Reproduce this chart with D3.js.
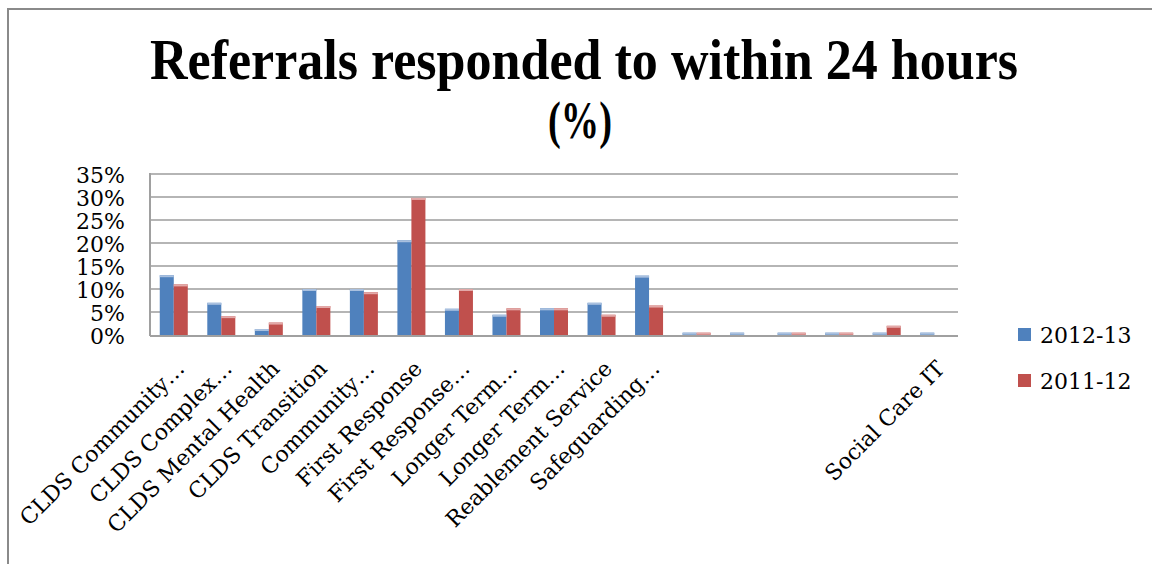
<!DOCTYPE html>
<html>
<head>
<meta charset="utf-8">
<script src="https://cdnjs.cloudflare.com/ajax/libs/d3/7.8.5/d3.min.js"></script>
<style>
  body { margin: 0; background: #fff; }
  svg { display: block; }
</style>
</head>
<body>
<script>
// DATA
var categories = ["CLDS Community\u2026", "CLDS Complex\u2026", "CLDS Mental Health", "CLDS Transition",
  "Community\u2026", "First Response", "First Response\u2026", "Longer Term\u2026", "Longer Term\u2026",
  "Reablement Service", "Safeguarding\u2026", "", "", "", "", "", "Social Care IT"];
var seriesNames = ["2012-13", "2011-12"];
var values2012 = [13, 7, 1.3, 10, 10, 20.6, 5.7, 4.4, 5.8, 7, 12.9, 0.5, 0.5, 0.5, 0.5, 0.5, 0.5];
var values2011 = [11, 4.1, 2.7, 6.3, 9.3, 29.8, 10, 5.8, 5.8, 4.4, 6.4, 0.5, 0, 0.5, 0.5, 2, 0];
var yTicks = [0, 5, 10, 15, 20, 25, 30, 35];

var colors = ["#4f81bd", "#c0504d"];
var tops = ["#a9c0df", "#e3a9a8"];

// SET CHART
var width = 1152, height = 564;
var plot = { left: 150, right: 958, top: 174, bottom: 335 };

var svg = d3.select("body")
  .append("svg")
  .attr("width", width)
  .attr("height", height);

// outer frame (only left + top edges visible)
svg.append("rect")
  .attr("x", 8).attr("y", 9)
  .attr("width", 1300).attr("height", 700)
  .style("fill", "#fff")
  .style("stroke", "#8a8a8a")
  .style("stroke-width", 2);

// title
var title = svg.append("g").attr("class", "title")
  .style("font-family", "'Liberation Serif', serif")
  .style("font-weight", "bold")
  .style("fill", "#000");
title.append("text")
  .attr("x", 150).attr("y", 79)
  .attr("textLength", 868)
  .attr("lengthAdjust", "spacingAndGlyphs")
  .style("font-size", "57px")
  .text("Referrals responded to within 24 hours");
title.append("text")
  .attr("x", 580).attr("y", 138)
  .attr("text-anchor", "middle")
  .attr("textLength", 64)
  .attr("lengthAdjust", "spacingAndGlyphs")
  .style("font-size", "52px")
  .text("(%)");

var x = d3.scaleBand()
  .domain(d3.range(categories.length))
  .range([plot.left, plot.right]);

var x1 = d3.scaleBand()
  .domain([0, 1])
  .range([0, 28]);

var y = d3.scaleLinear()
  .domain([0, 35])
  .range([plot.bottom, plot.top]);

// gridlines
svg.append("g")
  .attr("class", "grid")
  .selectAll("line")
  .data(yTicks.slice(1))
  .enter().append("line")
  .attr("x1", plot.left).attr("x2", plot.right)
  .attr("y1", function (d) { return y(d); })
  .attr("y2", function (d) { return y(d); })
  .style("stroke", "#b5b5b5")
  .style("stroke-width", 2);

// y axis labels
var yAxis = d3.axisLeft(y)
  .tickValues(yTicks)
  .tickSize(0)
  .tickPadding(25)
  .tickFormat(function (d) { return d + "%"; });

var gy = svg.append("g")
  .attr("transform", "translate(" + plot.left + ",0)")
  .call(yAxis);
gy.select(".domain").remove();
gy.selectAll("text")
  .attr("dy", "0.38em")
  .style("font-family", "'DejaVu Serif', serif")
  .style("font-size", "22px")
  .style("fill", "#000");

// bars
var series = [values2012, values2011];
var groups = svg.append("g").attr("class", "bars")
  .selectAll("g")
  .data(categories.map(function (c, i) { return i; }))
  .enter().append("g")
  .attr("transform", function (i) { return "translate(" + (x(i) + (x.bandwidth() - 28) / 2) + ",0)"; });

groups.selectAll("rect.bar")
  .data(function (i) { return series.map(function (s, k) { return { k: k, v: s[i] }; }); })
  .enter().append("rect")
  .attr("class", "bar")
  .attr("x", function (d) { return x1(d.k); })
  .attr("y", function (d) { return y(d.v); })
  .attr("width", x1.bandwidth())
  .attr("height", function (d) { return y(0) - y(d.v); })
  .style("fill", function (d) { return colors[d.k]; });

// light top edge on each bar
groups.selectAll("rect.hi")
  .data(function (i) { return series.map(function (s, k) { return { k: k, v: s[i] }; }).filter(function (d) { return d.v > 0; }); })
  .enter().append("rect")
  .attr("class", "hi")
  .attr("x", function (d) { return x1(d.k); })
  .attr("y", function (d) { return y(d.v); })
  .attr("width", x1.bandwidth())
  .attr("height", function (d) { return Math.min(2, y(0) - y(d.v)); })
  .style("fill", function (d) { return tops[d.k]; });

// axis lines
svg.append("line")
  .attr("x1", plot.left).attr("x2", plot.left)
  .attr("y1", plot.top - 1).attr("y2", plot.bottom + 1)
  .style("stroke", "#a0a0a0").style("stroke-width", 2);
svg.append("line")
  .attr("x1", plot.left).attr("x2", plot.right)
  .attr("y1", plot.bottom + 1).attr("y2", plot.bottom + 1)
  .style("stroke", "#a0a0a0").style("stroke-width", 2);

// category labels
svg.append("g").attr("class", "xlabels")
  .selectAll("text")
  .data(categories)
  .enter().append("text")
  .attr("transform", function (d, i) {
    return "translate(" + (x(i) + x.bandwidth() / 2 + 12) + "," + 370 + ") rotate(-45)";
  })
  .attr("text-anchor", "end")
  .style("font-family", "'DejaVu Serif', serif")
  .style("font-size", "22px")
  .style("fill", "#000")
  .text(function (d) { return d; });

// legend
var legend = svg.append("g").attr("class", "legend")
  .selectAll("g")
  .data(seriesNames)
  .enter().append("g")
  .attr("transform", function (d, i) { return "translate(1018," + (328 + i * 46) + ")"; });

legend.append("rect")
  .attr("width", 13).attr("height", 13)
  .style("fill", function (d, i) { return colors[i]; });

legend.append("text")
  .attr("x", 22).attr("y", 15)
  .style("font-family", "'DejaVu Serif', serif")
  .style("font-size", "22px")
  .style("fill", "#000")
  .text(function (d) { return d; });
</script>
</body>
</html>
